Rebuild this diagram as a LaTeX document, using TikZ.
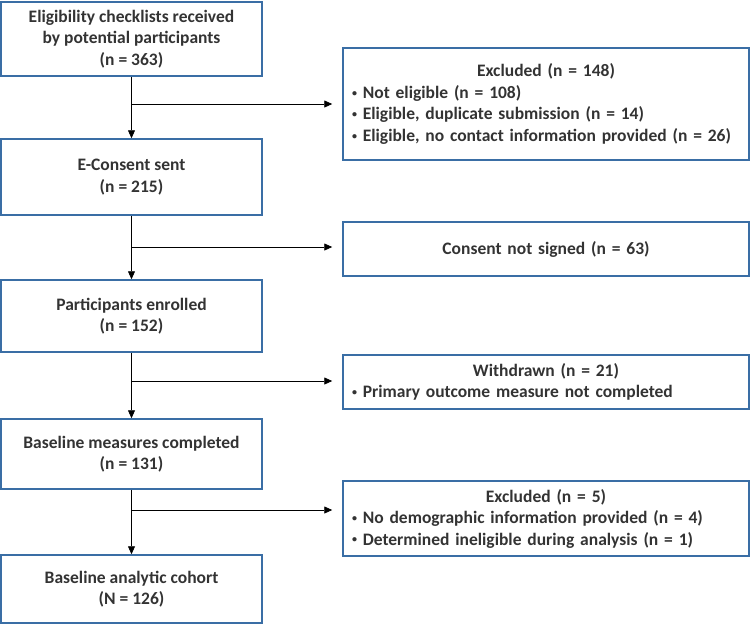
\documentclass[tikz,border=0pt]{standalone}
\usepackage{fontspec}
\setmainfont{Carlito}
\usetikzlibrary{positioning, arrows.meta}

\definecolor{boxblue}{HTML}{3A6EA5}
\definecolor{textgrey}{HTML}{333333}
\newcommand{\bul}{\raisebox{0.25ex}{\fontsize{10}{10}\selectfont\textbullet}\ }

\begin{document}
\begin{tikzpicture}[x=1pt, y=-1pt,
  box/.style={draw=boxblue, line width=1.5pt, text=textgrey, font=\fontsize{17.5}{21.5}\selectfont\bfseries, inner sep=4pt},
  lbox/.style={box, minimum width=261pt, align=center},
  rbox/.style={box, minimum width=406pt, text width=388pt},
  flow/.style={-{Triangle[length=8pt,width=7pt]}, line width=0.8pt}]
  \useasboundingbox (0,0) rectangle (750,625);

  % Left column
  \node[lbox, minimum height=74pt] (elig) at (131.5,39) {Eligibility checklists received\\by potential participants\\(n = 363)};
  \node[lbox, minimum height=76pt] (cons) at (131.5,177) {E-Consent sent\\(n = 215)};
  \node[lbox, minimum height=72pt] (enr) at (131.5,316) {Participants enrolled\\(n = 152)};
  \node[lbox, minimum height=70pt] (base) at (131.5,454) {Baseline measures completed\\(n = 131)};
  \node[lbox, minimum height=68pt] (coh) at (131.5,589) {Baseline analytic cohort\\(N = 126)};

  % Right column
  \node[rbox, minimum height=112pt] (exc1) at (546,104) {{\centering Excluded (n = 148)\par}\raggedright
    \bul Not eligible (n = 108)\\
    \bul Eligible, duplicate submission (n = 14)\\
    \bul Eligible, no contact information provided (n = 26)};
  \node[rbox, minimum height=54pt, align=center] (nsig) at (546,249) {Consent not signed (n = 63)};
  \node[rbox, minimum height=54pt] (wd) at (546,382) {{\centering Withdrawn (n = 21)\par}\raggedright
    \bul Primary outcome measure not completed};
  \node[rbox, minimum height=75pt] (exc2) at (546,518.5) {{\centering Excluded (n = 5)\par}\raggedright
    \bul No demographic information provided (n = 4)\\
    \bul Determined ineligible during analysis (n = 1)};

  % Arrows
  \draw[flow] (elig) -- (cons);
  \draw[flow] (cons) -- (enr);
  \draw[flow] (enr) -- (base);
  \draw[flow] (base) -- (coh);

  \coordinate (b1) at (131.5,104);
  \coordinate (b2) at (131.5,247);
  \coordinate (b3) at (131.5,381);
  \coordinate (b4) at (131.5,510);
  \draw[flow] (b1) -- ([xshift=-10pt]b1 -| exc1.west);
  \draw[flow] (b2) -- ([xshift=-10pt]b2 -| nsig.west);
  \draw[flow] (b3) -- ([xshift=-10pt]b3 -| wd.west);
  \draw[flow] (b4) -- ([xshift=-10pt]b4 -| exc2.west);
\end{tikzpicture}
\end{document}
